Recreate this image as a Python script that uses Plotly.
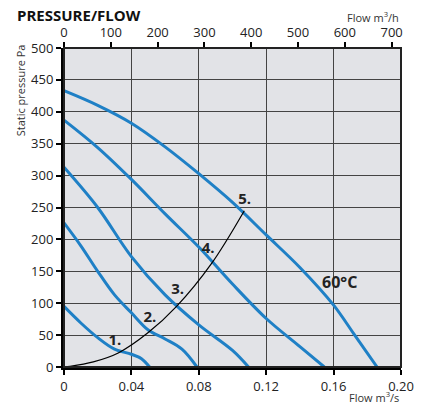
import plotly.graph_objects as go

# Fan curves, flow m3/s vs static pressure Pa
curve_a_q = [0, 0.02, 0.04, 0.06, 0.08, 0.10, 0.12, 0.14, 0.16, 0.172, 0.1858]
curve_a_p = [433, 410, 382, 345, 303, 258, 207, 156, 97, 52, 0]

curve_b_q = [0, 0.02, 0.04, 0.06, 0.08, 0.10, 0.12, 0.14, 0.1545]
curve_b_p = [387, 344, 294, 240, 188, 130, 76, 32, 0]

curve_c_q = [0, 0.02, 0.04, 0.06, 0.08, 0.10, 0.1095]
curve_c_p = [313, 250, 173, 113, 66, 26, 0]

curve_d_q = [0, 0.01, 0.02, 0.03, 0.04, 0.05, 0.06, 0.07, 0.0789]
curve_d_p = [226, 190, 150, 113, 85, 58, 44, 28, 0]

curve_e_q = [0, 0.01, 0.02, 0.03, 0.04, 0.046, 0.0508]
curve_e_p = [95, 69, 46, 28, 20, 13, 0]

# System curve with the numbered operating points
system_q = [0, 0.0036, 0.0174, 0.0322, 0.05, 0.0668, 0.0875, 0.107]
system_p = [0, 1, 8, 22, 54, 95, 162, 245]

point_labels = ["1.", "2.", "3.", "4.", "5."]
point_label_q = [0.0302, 0.051, 0.0675, 0.0855, 0.1072]
point_label_p = [41, 76, 121, 185, 262]

x_ticks = [0, 0.04, 0.08, 0.12, 0.16, 0.20]
x_tick_text = ["0", "0.04", "0.08", "0.12", "0.16", "0.20"]
top_ticks = [0, 100, 200, 300, 400, 500, 600, 700]
y_ticks = [0, 50, 100, 150, 200, 250, 300, 350, 400, 450, 500]

blue = "#1f80c6"
font = "Open Sans"

fig = go.Figure()

for q, p in [(curve_a_q, curve_a_p), (curve_b_q, curve_b_p), (curve_c_q, curve_c_p),
             (curve_d_q, curve_d_p), (curve_e_q, curve_e_p)]:
    fig.add_trace(go.Scatter(x=q, y=p, mode="lines",
                             line=dict(color=blue, width=3, shape="spline", smoothing=1),
                             hoverinfo="skip", showlegend=False))

fig.add_trace(go.Scatter(x=system_q, y=system_p, mode="lines",
                         line=dict(color="black", width=1.2, shape="spline", smoothing=1),
                         hoverinfo="skip", showlegend=False))

fig.add_trace(go.Scatter(x=point_label_q, y=point_label_p, mode="text", text=point_labels,
                         textfont=dict(family=font, size=15, color="#222222", weight="bold"),
                         hoverinfo="skip", showlegend=False))

# invisible trace so the m3/h axis is drawn
fig.add_trace(go.Scatter(x=[0, 720], y=[0, 0], xaxis="x2", mode="markers",
                         marker=dict(opacity=0), hoverinfo="skip", showlegend=False))

fig.add_annotation(x=0.1635, y=133, text="60°C", showarrow=False,
                   font=dict(family=font, size=16, color="#222222", weight="bold"))

fig.add_annotation(x=-0.145, y=1.141, xref="paper", yref="paper", text="<b>PRESSURE/FLOW</b>",
                   showarrow=False, xanchor="left", yanchor="top",
                   font=dict(family=font, size=15, color="#111111"))
fig.add_annotation(x=1.0, y=1.097, xref="paper", yref="paper", text="Flow m<sup>3</sup>/h",
                   showarrow=False, xanchor="right", yanchor="middle",
                   font=dict(family=font, size=11, color="#333333"))
fig.add_annotation(x=1.0, y=-0.095, xref="paper", yref="paper", text="Flow m<sup>3</sup>/s",
                   showarrow=False, xanchor="right", yanchor="middle",
                   font=dict(family=font, size=11, color="#333333"))
fig.add_annotation(x=-0.13, y=0.868, xref="paper", yref="paper", text="Static pressure Pa",
                   showarrow=False, textangle=-90, xanchor="center", yanchor="middle",
                   font=dict(family=font, size=11, color="#333333"))

# top and right border
fig.add_shape(type="rect", xref="paper", yref="paper", x0=0, y0=0, x1=1, y1=1,
              line=dict(color="#222222", width=2), layer="above")

fig.update_layout(
    width=428, height=408,
    margin=dict(l=64, r=27, t=48, b=41),
    paper_bgcolor="white",
    plot_bgcolor="#e2e3e7",
    font=dict(family=font, size=13, color="#222222"),
    xaxis=dict(range=[0, 0.2], tickvals=x_ticks, ticktext=x_tick_text,
               showgrid=True, gridcolor="#444444", gridwidth=1.3, zeroline=False,
               showline=True, linecolor="black", linewidth=3,
               ticks="outside", ticklen=5, tickwidth=2, tickcolor="black"),
    xaxis2=dict(range=[0, 720], tickvals=top_ticks, overlaying="x", side="top",
                showgrid=False, zeroline=False, showline=False,
                ticks="outside", ticklen=5, tickwidth=2, tickcolor="black"),
    yaxis=dict(range=[0, 500], tickvals=y_ticks,
               showgrid=True, gridcolor="#444444", gridwidth=1.3, zeroline=False,
               showline=True, linecolor="black", linewidth=3,
               ticks="outside", ticklen=5, tickwidth=2, tickcolor="black"),
)

# drop the default page margin so the figure sits at the window's corner
fig.write_html("out.html", config={"displayModeBar": False},
               post_script="document.body.style.margin='0px';")
